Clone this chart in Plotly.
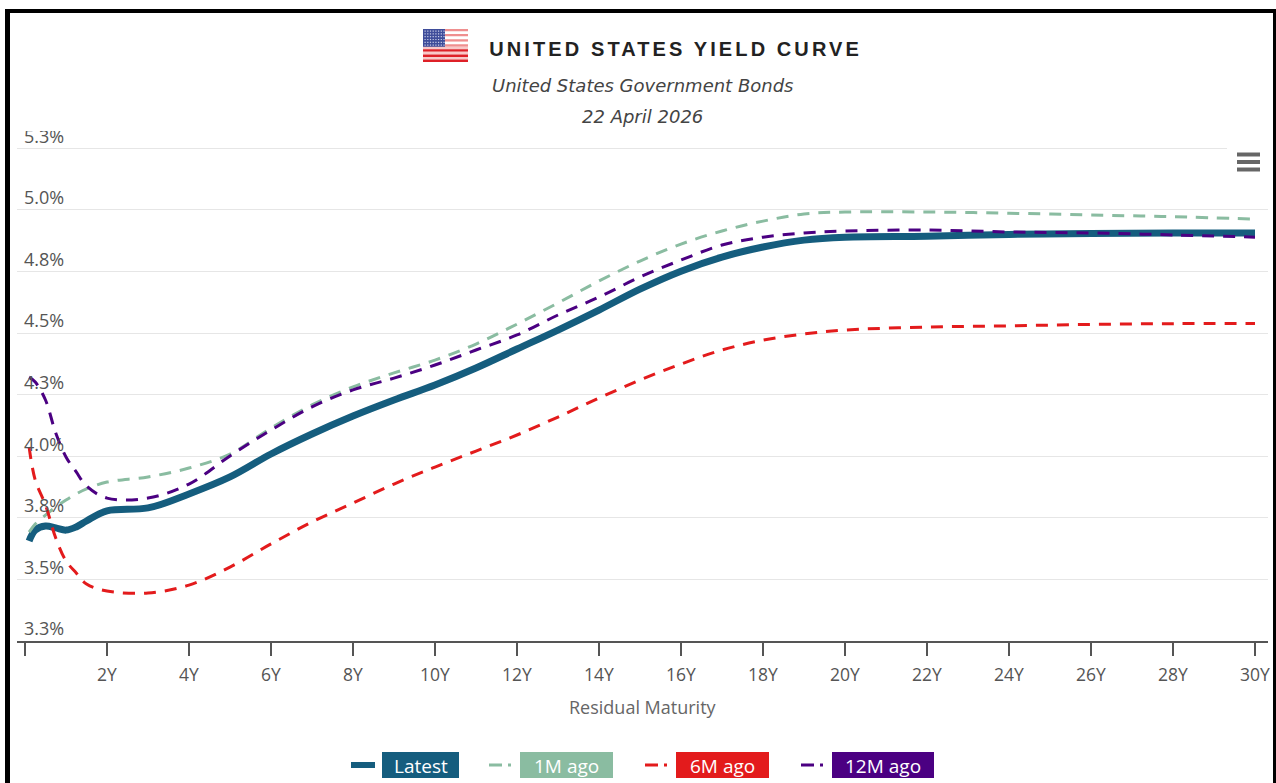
import plotly.graph_objects as go

maturity = [0.1, 0.25, 0.5, 0.75, 1, 1.25, 1.5, 2, 3, 4, 5, 6, 7, 8, 9, 10, 11, 12, 13, 14, 15, 16, 17, 18, 19, 20, 22, 24, 26, 28, 30]
latest = [3.656, 3.700, 3.717, 3.709, 3.700, 3.713, 3.737, 3.778, 3.790, 3.847, 3.916, 4.009, 4.090, 4.163, 4.228, 4.289, 4.358, 4.435, 4.512, 4.593, 4.678, 4.751, 4.808, 4.849, 4.877, 4.889, 4.893, 4.900, 4.904, 4.906, 4.906]
ago_1m = [3.692, 3.725, 3.761, 3.794, 3.822, 3.847, 3.867, 3.895, 3.916, 3.952, 4.009, 4.114, 4.208, 4.281, 4.338, 4.390, 4.455, 4.536, 4.622, 4.711, 4.792, 4.861, 4.914, 4.954, 4.983, 4.991, 4.991, 4.986, 4.979, 4.972, 4.962]
ago_6m = [4.037, 3.903, 3.802, 3.668, 3.575, 3.526, 3.481, 3.453, 3.445, 3.477, 3.550, 3.644, 3.733, 3.810, 3.887, 3.956, 4.021, 4.086, 4.159, 4.236, 4.309, 4.374, 4.431, 4.471, 4.496, 4.512, 4.524, 4.529, 4.535, 4.538, 4.539]
ago_12m = [4.321, 4.301, 4.228, 4.094, 3.997, 3.936, 3.879, 3.830, 3.830, 3.887, 4.001, 4.106, 4.200, 4.269, 4.317, 4.370, 4.431, 4.492, 4.573, 4.646, 4.727, 4.796, 4.857, 4.889, 4.906, 4.914, 4.918, 4.910, 4.906, 4.898, 4.889]

series_names = ["Latest", "1M ago", "6M ago", "12M ago"]
series_colors = ["#155d7e", "#8abca1", "#e31b1c", "#4b0082"]
x_ticks = list(range(0, 31, 2))
x_labels = [""] + [f"{v}Y" for v in x_ticks[1:]]
y_ticks = [3.25, 3.5, 3.75, 4.0, 4.25, 4.5, 4.75, 5.0, 5.25]
y_labels = ["3.3%", "3.5%", "3.8%", "4.0%", "4.3%", "4.5%", "4.8%", "5.0%", "5.3%"]

W, H = 1276, 783
L, R, T, B = 17, 1268, 131, 641
X_RANGE = [(L - 25) / 41, (R - 25) / 41]
Y_RANGE = [3.25, 3.25 + (B - T) / 246.4]
FONT = "Open Sans, sans-serif"


def px(x):
    return (x - L) / (R - L)


def py(y):
    return (B - y) / (B - T)


def box(x0, y0, x1, y1, color):
    return dict(type="rect", xref="paper", yref="paper", x0=px(x0), x1=px(x1),
                y0=py(y1), y1=py(y0), fillcolor=color, line=dict(width=0), layer="above")


def seg(x0, x1, y, color, width, dash="solid"):
    return dict(type="line", xref="paper", yref="paper", x0=px(x0), x1=px(x1), y0=py(y), y1=py(y),
                line=dict(color=color, width=width, dash=dash), layer="above")


fig = go.Figure()
for name, values, color, width, dash in zip(
    series_names, [latest, ago_1m, ago_6m, ago_12m], series_colors,
    [7, 3, 3, 3], ["solid", "12px,9px", "12px,9px", "12px,9px"],
):
    fig.add_trace(go.Scatter(x=maturity, y=values, name=name, mode="lines",
                             line=dict(color=color, width=width, dash=dash, shape="spline", smoothing=1.0)))

shapes = [
    box(13, 13, 1273, T, "#ffffff"),          # title area masks the clipped top tick label
    box(1227, 138, 1270, 182, "#ffffff"),     # menu button background
    box(5, 9, 10, H, "#000000"),
    box(5, 9, 1276, 13, "#000000"),
    box(1273, 9, 1276, H, "#000000"),
]
for yy in (154.5, 162, 169.5):
    shapes.append(seg(1237, 1260, yy, "#666666", 4))

# flag
fx0, fx1, fy0, fy1 = 423, 468, 29, 62
sh = (fy1 - fy0) / 13
for i in range(13):
    red = i % 2 == 0
    c = ("#ef8f8f" if i < 7 else "#de2027") if red else ("#ffffff" if i < 7 else "#f8c8c8")
    shapes.append(box(fx0, fy0 + i * sh, fx1, fy0 + (i + 1) * sh, c))
shapes.append(box(fx0, fy0, 445, fy0 + 7 * sh, "#3f4d9a"))
for r in range(6):
    for c in range(8):
        shapes.append(box(fx0 + 1.5 + c * 2.7, fy0 + 1.5 + r * 2.8, fx0 + 2.7 + c * 2.7, fy0 + 2.7 + r * 2.8, "#c9cde6"))

# legend
badges = [(382, 459), (520, 613), (676, 769), (832, 934)]
samples = [(351, 375), (489, 511), (645, 667), (801, 823)]
annotations = []
for name, color, (b0, b1), (s0, s1), w, d in zip(
    series_names, series_colors, badges, samples, [6, 3, 3, 3],
    ["solid", "13px,6px,3px", "13px,6px,3px", "13px,6px,3px"],
):
    shapes.append(box(b0, 752, b1, 778, color))
    shapes.append(seg(s0, s1, 765, color, w, d))
    annotations.append(dict(text=name, xref="paper", yref="paper", x=px((b0 + b1) / 2), y=py(766),
                            showarrow=False, xanchor="center", yanchor="middle",
                            font=dict(family=FONT, size=19, color="#ffffff")))


def label(text, x, y, size, color, family, **kw):
    annotations.append(dict(text=text, xref="paper", yref="paper", x=px(x), y=py(y), showarrow=False,
                            xanchor="center", yanchor="middle",
                            font=dict(family=family, size=size, color=color, **kw)))


label("UNITED STATES YIELD CURVE", 675, 49, 20, "#222222", "Liberation Sans", weight="bold")
label("United States Government Bonds", 642, 85, 18, "#444444", "DejaVu Sans", style="italic")
label("22 April 2026", 642, 116, 18, "#444444", "DejaVu Sans", style="italic")
label("Residual Maturity", 643, 707, 18, "#666666", FONT)

fig.update_layout(
    width=W, height=H, autosize=False, showlegend=False,
    paper_bgcolor="#ffffff", plot_bgcolor="#ffffff",
    margin=dict(l=L, r=W - R, t=T, b=H - B, pad=0, autoexpand=False),
    shapes=shapes, annotations=annotations,
    xaxis=dict(range=X_RANGE, tickmode="array", tickvals=x_ticks, ticktext=x_labels,
               showgrid=False, zeroline=False, showline=True, linecolor="#555555", linewidth=1.5,
               ticks="outside", ticklen=13, tickcolor="#555555", tickwidth=1.5, automargin=False,
               ticklabelstandoff=4, tickfont=dict(family=FONT, size=17.5, color="#555555")),
    yaxis=dict(range=Y_RANGE, tickmode="array", tickvals=y_ticks, ticktext=y_labels,
               showgrid=True, gridcolor="#e6e6e6", gridwidth=1, zeroline=False, showline=False,
               ticks="", ticklabelposition="inside", ticklabeloverflow="allow", automargin=False,
               ticklabelshift=-12, ticklabelstandoff=4,
               tickfont=dict(family=FONT, size=18, color="#555555")),
)

post = """
document.body.style.margin='0';
document.body.style.overflow='hidden';
document.querySelectorAll('.annotation-text').forEach(function(t){
  if(t.textContent==='UNITED STATES YIELD CURVE'){t.style.letterSpacing='3.1px';}
});
"""
fig.write_html("out.html", config={"displayModeBar": False}, post_script=post)
